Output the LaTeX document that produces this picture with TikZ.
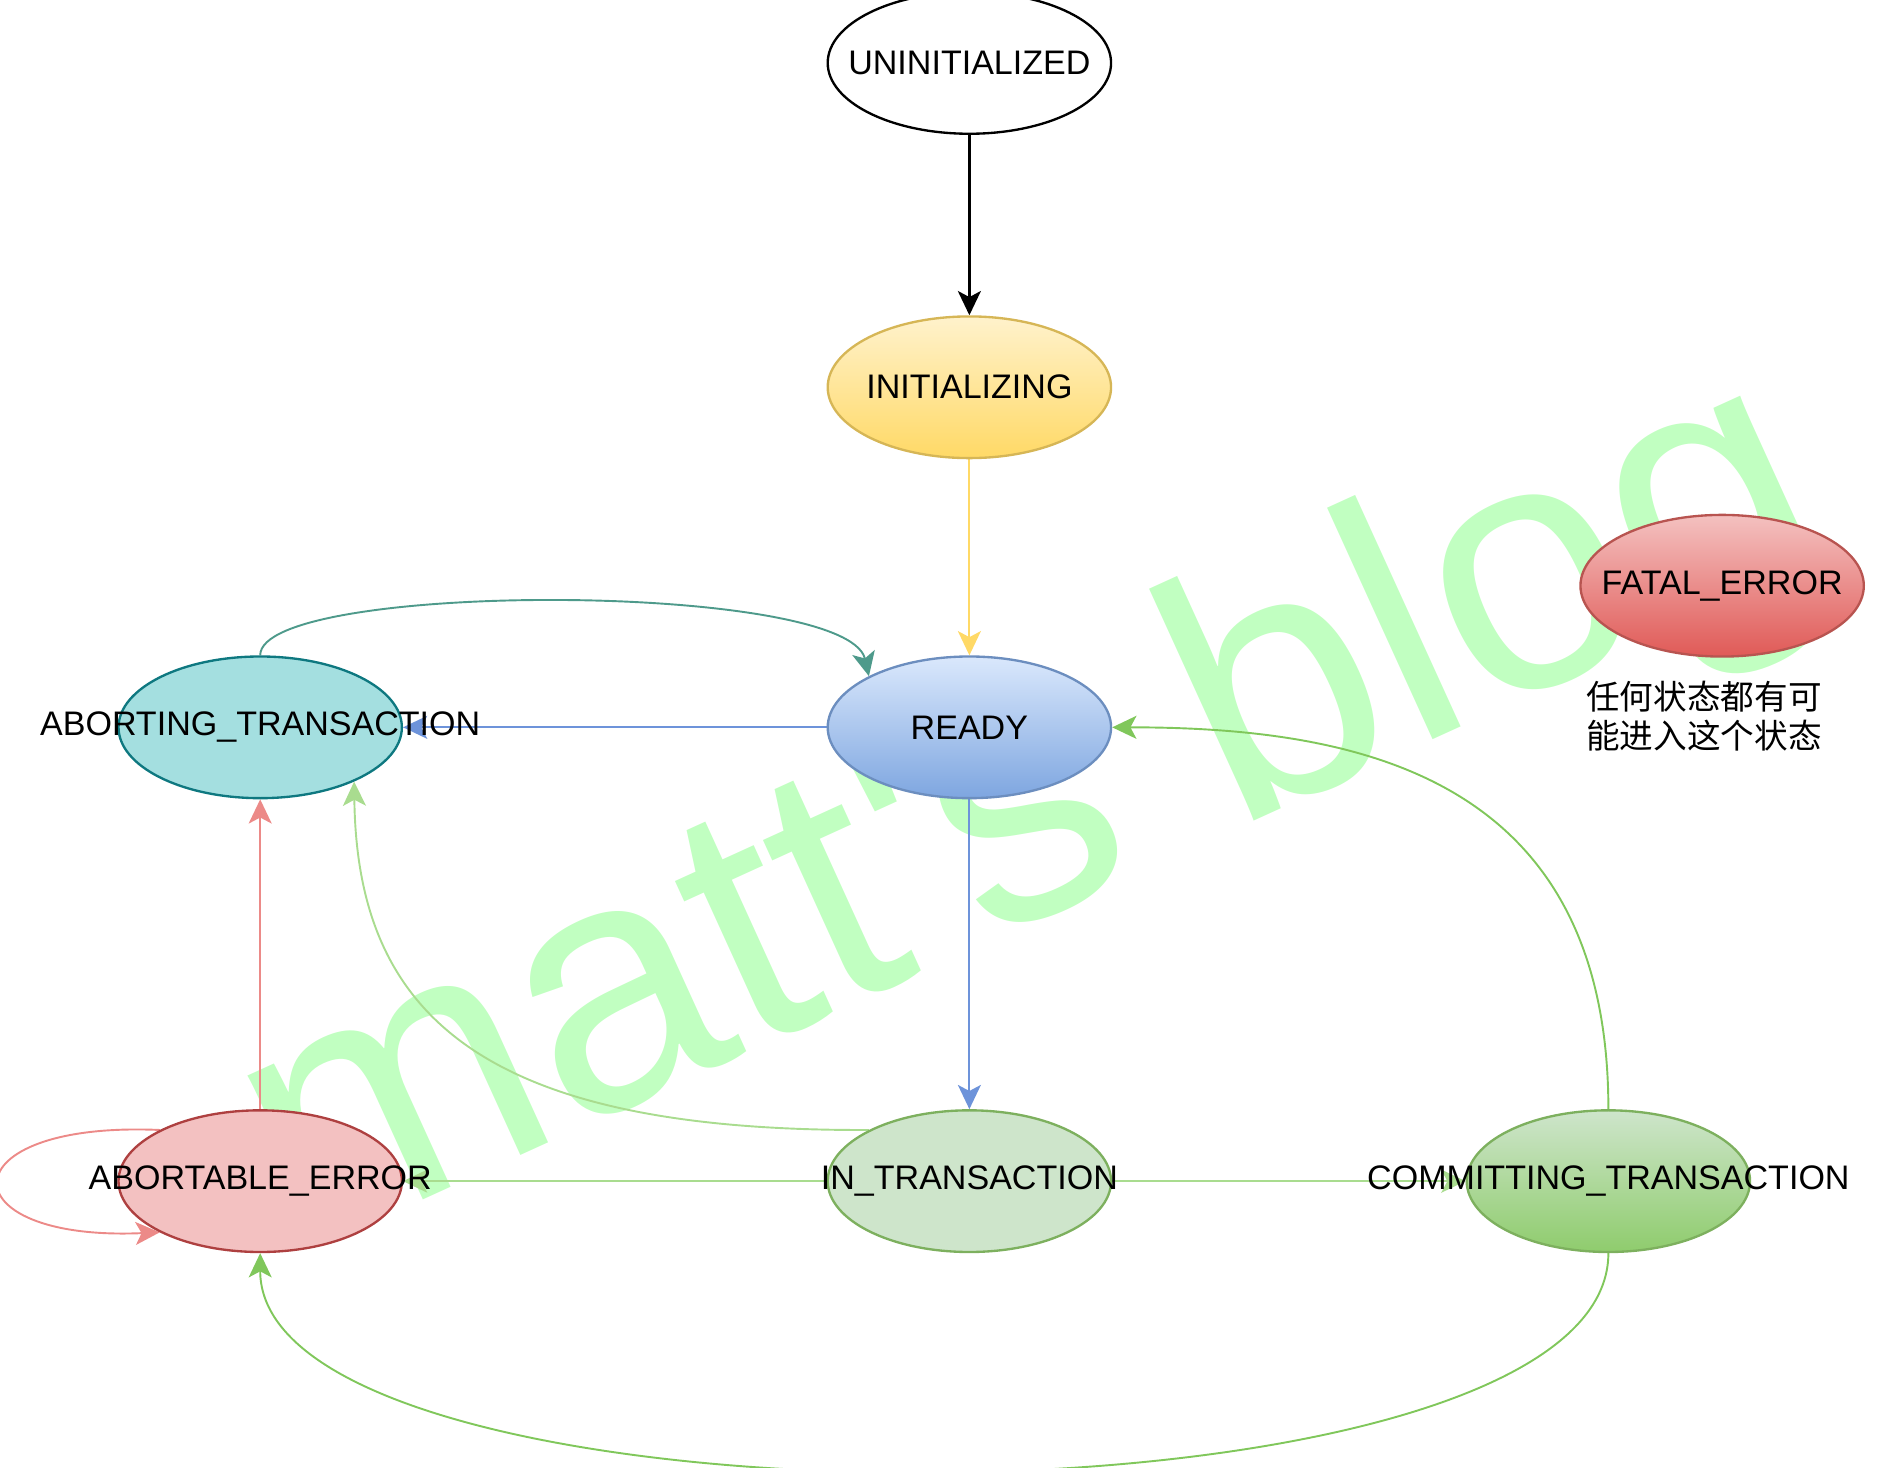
\documentclass[tikz,border=0pt]{standalone}
\usepackage{fontspec}
\setmainfont{Liberation Sans}
\newfontfamily\cjkfont{Noto Sans CJK SC}
\newfontfamily\markfont{Liberation Sans}[Ligatures=TeXOff]
\usetikzlibrary{arrows.meta,shapes.geometric}
\pgfdeclarelayer{wm}
\pgfdeclarelayer{back}
\pgfsetlayers{wm,back,main}
%
\definecolor{initT}{HTML}{FFF2CC}\definecolor{initB}{HTML}{FFD966}\definecolor{initD}{HTML}{D6B656}
\definecolor{readyT}{HTML}{DAE8FC}\definecolor{readyB}{HTML}{7EA6E0}\definecolor{readyD}{HTML}{6C8EBF}
\definecolor{abtF}{HTML}{A4DFE0}\definecolor{abtD}{HTML}{0E7880}
\definecolor{fatalT}{HTML}{F4C1C0}\definecolor{fatalB}{HTML}{E05A57}\definecolor{fatalD}{HTML}{B85450}
\definecolor{errF}{HTML}{F3C1C1}\definecolor{errD}{HTML}{AE4040}
\definecolor{inF}{HTML}{CEE5CB}\definecolor{comB}{HTML}{8FCC6D}\definecolor{grnD}{HTML}{7DB05E}
\definecolor{tealL}{HTML}{4E9A8B}\definecolor{blueL}{HTML}{6D93DA}\definecolor{redL}{HTML}{EC8A88}
\definecolor{lgrnL}{HTML}{A9DC8F}\definecolor{grnL}{HTML}{80C75B}\definecolor{wmC}{HTML}{C1FFC1}
%
\newcommand{\lbl}[1]{\makebox[0pt]{#1}}

\begin{document}
\begin{tikzpicture}[x=0.01cm,y=-0.01cm,
  state/.style={ellipse,draw,line width=0.55pt,minimum width=2.34cm,minimum height=1.17cm,
    inner sep=0pt,font=\fontsize{8}{10}\selectfont},
  link/.style={line width=0.45pt,-{Stealth[length=0.2cm,width=0.19cm,inset=0.05cm]}}]
\useasboundingbox (0,0) rectangle (1565,1213);
%
\node[state,fill=white](uninit) at (801,52){\lbl{UNINITIALIZED}};
\node[state,draw=initD,top color=initT,bottom color=initB](init) at (801,320){\lbl{INITIALIZING}};
\node[state,draw=readyD,top color=readyT,bottom color=readyB](ready) at (801,601){\lbl{READY}};
\node[state,draw=abtD,fill=abtF](aborting) at (215,601){\lbl{ABORTING\_TRANSACTION}};
\node[state,draw=fatalD,top color=fatalT,bottom color=fatalB](fatal) at (1423,484){\lbl{FATAL\_ERROR}};
\node[align=center,inner sep=0pt,font=\cjkfont\fontsize{7.9}{9.1}\selectfont](note) at (1408,592)
  {任何状态都有可\\能进入这个状态};
\node[state,draw=errD,fill=errF](abortable) at (215,976){\lbl{ABORTABLE\_ERROR}};
\node[state,draw=grnD,fill=inF](intx) at (801,976){\lbl{IN\_TRANSACTION}};
\node[state,draw=grnD,top color=inF,bottom color=comB](commit) at (1329,976){\lbl{COMMITTING\_TRANSACTION}};
%
\begin{pgfonlayer}{back}
\draw[link,line width=0.6pt,black](uninit)--(init);
\draw[link,initB](init)--(ready);
\draw[link,tealL](aborting.north) .. controls (215,480) and (700,480) .. (ready.153);
\draw[link,blueL](ready)--(aborting);
\draw[link,blueL](ready)--(intx);
\draw[link,redL](abortable)--(aborting);
\draw[link,redL](abortable.153) .. controls (-45,926) and (-45,1026) .. (abortable.207);
\draw[link,lgrnL](intx.153) .. controls (400,935) and (295,840) .. (aborting.330);
\draw[link,lgrnL](intx)--(abortable);
\draw[link,lgrnL](intx)--(commit);
\draw[link,grnL](commit.north) .. controls (1329,640) and (1120,601) .. (ready.east);
\draw[link,grnL](commit.south) .. controls (1329,1275) and (215,1275) .. (abortable.south);
\end{pgfonlayer}
%
\begin{pgfonlayer}{wm}
\node[rotate=24.5,anchor=base west,inner sep=0pt,text=wmC,
  font=\markfont\fontsize{82.5}{90}\selectfont](mark) at (250,1037){matt's blog};
\end{pgfonlayer}
\end{tikzpicture}
\end{document}
